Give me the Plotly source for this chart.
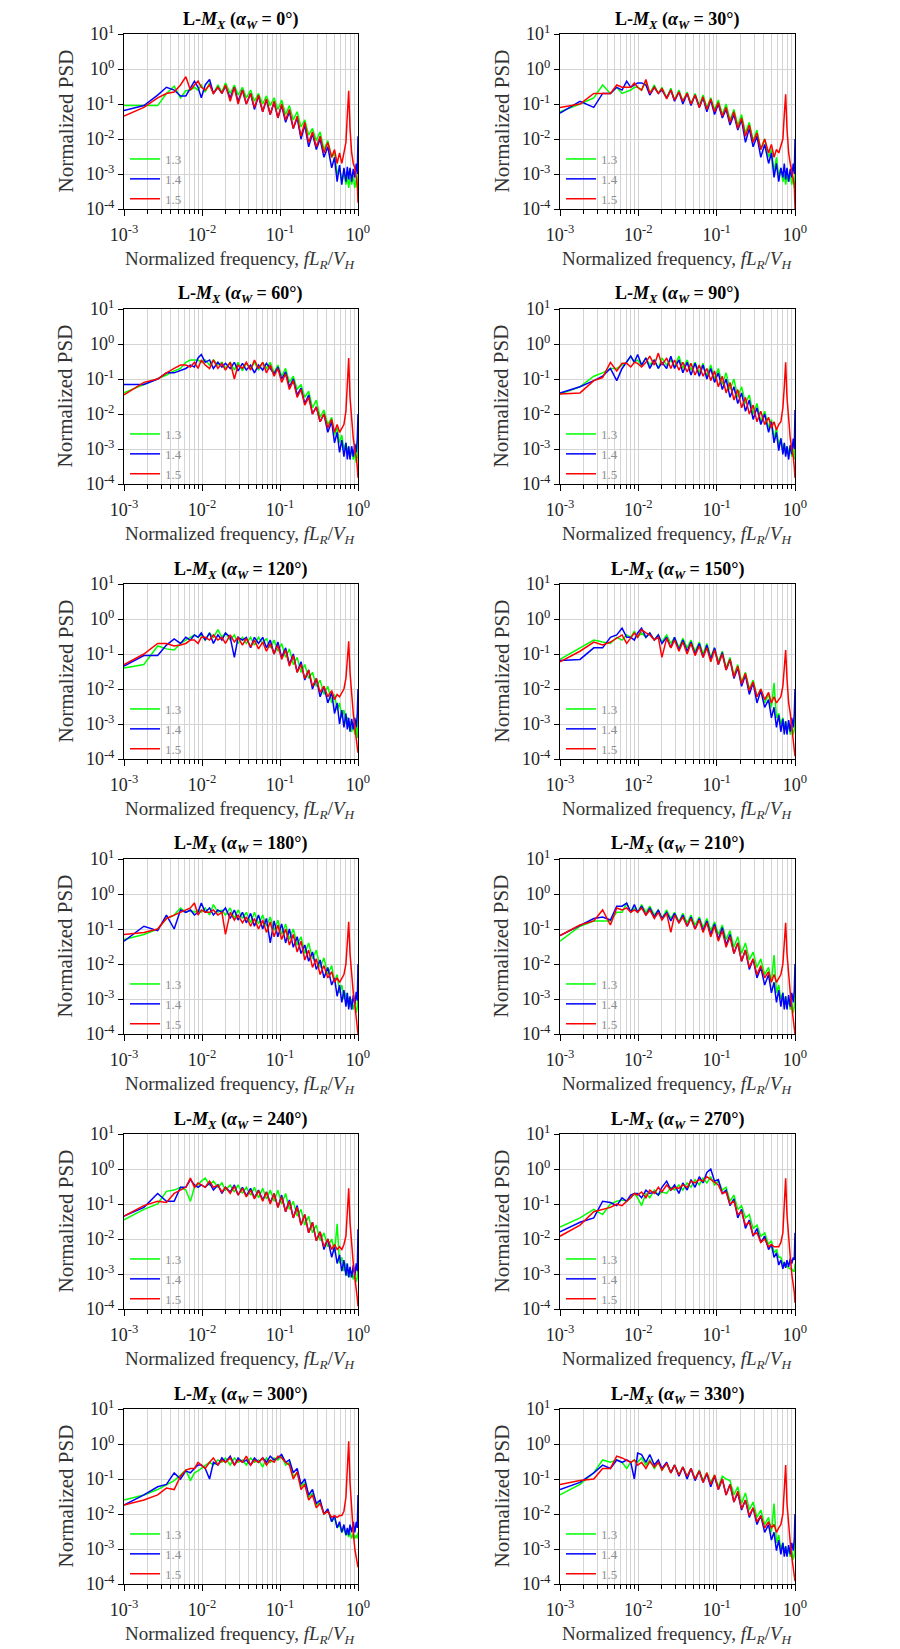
import plotly.graph_objects as go

# ---------------- data ----------------
FREQ = [0.001, 0.0018, 0.0027, 0.0035, 0.0044, 0.0053, 0.0062, 0.0071, 0.008, 0.0089,
        0.0098, 0.011, 0.0125, 0.014, 0.016, 0.018, 0.02, 0.023, 0.026, 0.029,
        0.033, 0.037, 0.042, 0.047, 0.053, 0.06, 0.067, 0.075, 0.084, 0.094,
        0.105, 0.118, 0.132, 0.148, 0.166, 0.186, 0.208, 0.233, 0.261, 0.292,
        0.327, 0.366, 0.41, 0.46, 0.5, 0.54, 0.58, 0.62, 0.66, 0.7,
        0.73, 0.76, 0.79, 0.83, 0.87, 0.91, 0.95, 0.98, 1.0]

ANGLES = [0, 30, 60, 90, 120, 150, 180, 210, 240, 270, 300, 330]
SERIES_NAMES = ["1.3", "1.4", "1.5"]
SERIES_COLORS = ["#00ff00", "#0000ff", "#ff0000"]
X_TICKS = [1e-3, 1e-2, 1e-1, 1.0]
X_TICKTEXT = ["10<sup>-3</sup>", "10<sup>-2</sup>", "10<sup>-1</sup>", "10<sup>0</sup>"]
Y_TICKS = [1e-4, 1e-3, 1e-2, 1e-1, 1.0, 10.0]
Y_TICKTEXT = ["10<sup>-4</sup>", "10<sup>-3</sup>", "10<sup>-2</sup>", "10<sup>-1</sup>", "10<sup>0</sup>", "10<sup>1</sup>"]

A000_G = [0.09, 0.09, 0.09, 0.2, 0.32, 0.15, 0.24, 0.25, 0.3, 0.25,
          0.35, 0.22, 0.4, 0.2, 0.35, 0.22, 0.4, 0.2, 0.35, 0.18,
          0.3, 0.15, 0.25, 0.12, 0.2, 0.1, 0.17, 0.09, 0.15, 0.07,
          0.13, 0.05, 0.09, 0.035, 0.06, 0.022, 0.035, 0.013, 0.02, 0.009,
          0.016, 0.005, 0.009, 0.003, 0.004, 0.001, 0.0015, 0.0006, 0.0011, 0.0005,
          0.0009, 0.0004, 0.0008, 0.0005, 0.0009, 0.0004, 0.0007, 0.0004, 0.001]
A000_B = [0.065, 0.09, 0.18, 0.3, 0.25, 0.17, 0.17, 0.3, 0.45, 0.3,
          0.15, 0.35, 0.5, 0.2, 0.3, 0.2, 0.32, 0.15, 0.3, 0.12,
          0.25, 0.1, 0.2, 0.07, 0.17, 0.06, 0.13, 0.05, 0.11, 0.04,
          0.09, 0.03, 0.06, 0.02, 0.04, 0.01, 0.025, 0.006, 0.014, 0.005,
          0.01, 0.003, 0.006, 0.0015, 0.003, 0.0006, 0.0018, 0.0005, 0.0015, 0.0006,
          0.0016, 0.0007, 0.0015, 0.0006, 0.0014, 0.0008, 0.002, 0.001, 0.012]
A000_R = [0.045, 0.08, 0.15, 0.2, 0.22, 0.35, 0.6, 0.25, 0.35, 0.45,
          0.3, 0.25, 0.35, 0.2, 0.3, 0.2, 0.35, 0.12, 0.3, 0.1,
          0.25, 0.1, 0.2, 0.08, 0.18, 0.06, 0.14, 0.05, 0.12, 0.04,
          0.1, 0.035, 0.07, 0.02, 0.045, 0.012, 0.03, 0.008, 0.016, 0.006,
          0.012, 0.004, 0.008, 0.003, 0.005, 0.002, 0.004, 0.002, 0.004, 0.008,
          0.05, 0.24, 0.02, 0.004, 0.002, 0.0015, 0.0008, 0.0005, 0.00015]

A030_G = [0.06, 0.1, 0.15, 0.35, 0.2, 0.3, 0.2, 0.22, 0.25, 0.3,
          0.3, 0.25, 0.45, 0.2, 0.35, 0.2, 0.3, 0.15, 0.28, 0.13,
          0.25, 0.12, 0.22, 0.1, 0.2, 0.09, 0.18, 0.08, 0.15, 0.07,
          0.13, 0.05, 0.1, 0.035, 0.07, 0.025, 0.05, 0.015, 0.03, 0.009,
          0.018, 0.005, 0.01, 0.003, 0.005, 0.0012, 0.003, 0.0008, 0.0015, 0.0006,
          0.001, 0.0005, 0.0009, 0.0006, 0.001, 0.0005, 0.0008, 0.0004, 0.001]
A030_B = [0.055, 0.12, 0.08, 0.2, 0.2, 0.3, 0.25, 0.45, 0.3, 0.35,
          0.4, 0.4, 0.35, 0.18, 0.3, 0.2, 0.25, 0.15, 0.25, 0.12,
          0.22, 0.1, 0.2, 0.09, 0.18, 0.08, 0.15, 0.06, 0.13, 0.05,
          0.1, 0.04, 0.07, 0.025, 0.05, 0.018, 0.035, 0.008, 0.02, 0.006,
          0.012, 0.003, 0.007, 0.002, 0.004, 0.0008, 0.002, 0.0006, 0.0015, 0.0008,
          0.002, 0.0007, 0.0015, 0.0006, 0.0014, 0.0008, 0.002, 0.001, 0.01]
A030_R = [0.08, 0.1, 0.2, 0.2, 0.2, 0.35, 0.3, 0.3, 0.3, 0.4,
          0.3, 0.25, 0.5, 0.2, 0.3, 0.2, 0.28, 0.14, 0.25, 0.13,
          0.22, 0.12, 0.2, 0.1, 0.18, 0.08, 0.16, 0.07, 0.14, 0.06,
          0.11, 0.045, 0.08, 0.03, 0.06, 0.02, 0.04, 0.012, 0.025, 0.008,
          0.015, 0.005, 0.01, 0.004, 0.007, 0.003, 0.005, 0.004, 0.006, 0.01,
          0.05, 0.19, 0.02, 0.004, 0.002, 0.0012, 0.0008, 0.0005, 0.0001]

A060_G = [0.04, 0.07, 0.1, 0.13, 0.17, 0.2, 0.3, 0.35, 0.35, 0.35,
          0.3, 0.35, 0.25, 0.35, 0.25, 0.3, 0.2, 0.3, 0.18, 0.3,
          0.17, 0.28, 0.2, 0.3, 0.18, 0.3, 0.2, 0.3, 0.15, 0.25,
          0.12, 0.2, 0.08, 0.12, 0.05, 0.07, 0.03, 0.045, 0.015, 0.025,
          0.008, 0.013, 0.005, 0.008, 0.0025, 0.004, 0.0015, 0.0025, 0.001, 0.0015,
          0.0008, 0.0012, 0.0006, 0.001, 0.0005, 0.0008, 0.0004, 0.0006, 0.003]
A060_B = [0.07, 0.07, 0.1, 0.15, 0.15, 0.18, 0.2, 0.25, 0.22, 0.4,
          0.5, 0.3, 0.35, 0.2, 0.3, 0.22, 0.28, 0.2, 0.3, 0.17,
          0.28, 0.18, 0.25, 0.15, 0.25, 0.18, 0.28, 0.2, 0.14, 0.22,
          0.1, 0.16, 0.06, 0.1, 0.035, 0.055, 0.02, 0.035, 0.01, 0.016,
          0.006, 0.01, 0.003, 0.006, 0.0015, 0.003, 0.0008, 0.0018, 0.0006, 0.0015,
          0.0005, 0.0012, 0.0005, 0.0012, 0.0006, 0.0014, 0.0008, 0.002, 0.01]
A060_R = [0.035, 0.08, 0.1, 0.15, 0.2, 0.25, 0.25, 0.22, 0.3, 0.2,
          0.35, 0.25, 0.2, 0.35, 0.2, 0.28, 0.18, 0.3, 0.1, 0.25,
          0.2, 0.3, 0.18, 0.35, 0.2, 0.3, 0.15, 0.25, 0.12, 0.2,
          0.08, 0.14, 0.05, 0.09, 0.03, 0.05, 0.018, 0.03, 0.01, 0.016,
          0.006, 0.01, 0.004, 0.007, 0.003, 0.005, 0.003, 0.004, 0.005, 0.012,
          0.08, 0.4, 0.03, 0.005, 0.002, 0.001, 0.0006, 0.0003, 0.00015]

A090_G = [0.037, 0.06, 0.12, 0.15, 0.2, 0.2, 0.25, 0.3, 0.45, 0.3,
          0.35, 0.25, 0.4, 0.25, 0.35, 0.2, 0.4, 0.25, 0.35, 0.22,
          0.45, 0.2, 0.35, 0.18, 0.3, 0.15, 0.28, 0.12, 0.25, 0.1,
          0.2, 0.07, 0.15, 0.05, 0.1, 0.03, 0.06, 0.02, 0.035, 0.01,
          0.02, 0.006, 0.012, 0.004, 0.007, 0.002, 0.004, 0.0012, 0.002, 0.0009,
          0.0014, 0.0007, 0.0012, 0.0008, 0.0012, 0.0006, 0.001, 0.0005, 0.0015]
A090_B = [0.04, 0.06, 0.09, 0.12, 0.2, 0.09, 0.2, 0.3, 0.45, 0.3,
          0.5, 0.25, 0.4, 0.2, 0.35, 0.2, 0.3, 0.2, 0.45, 0.2,
          0.35, 0.15, 0.3, 0.13, 0.28, 0.12, 0.25, 0.1, 0.2, 0.08,
          0.15, 0.05, 0.1, 0.03, 0.06, 0.02, 0.04, 0.012, 0.025, 0.007,
          0.015, 0.005, 0.01, 0.003, 0.006, 0.0015, 0.003, 0.0009, 0.002, 0.0007,
          0.0015, 0.0006, 0.0012, 0.0005, 0.0013, 0.0007, 0.002, 0.001, 0.013]
A090_R = [0.037, 0.04, 0.09, 0.11, 0.3, 0.17, 0.28, 0.28, 0.22, 0.3,
          0.28, 0.22, 0.3, 0.45, 0.25, 0.55, 0.25, 0.4, 0.2, 0.35,
          0.18, 0.3, 0.16, 0.28, 0.13, 0.25, 0.12, 0.2, 0.09, 0.17,
          0.06, 0.12, 0.04, 0.08, 0.025, 0.05, 0.015, 0.03, 0.01, 0.018,
          0.006, 0.012, 0.005, 0.008, 0.004, 0.006, 0.0035, 0.005, 0.006, 0.015,
          0.06, 0.3, 0.03, 0.005, 0.002, 0.001, 0.0006, 0.0003, 0.00015]

A120_G = [0.04, 0.05, 0.17, 0.14, 0.13, 0.2, 0.25, 0.3, 0.35, 0.3,
          0.35, 0.25, 0.4, 0.3, 0.5, 0.3, 0.4, 0.25, 0.35, 0.2,
          0.3, 0.2, 0.3, 0.18, 0.3, 0.2, 0.28, 0.15, 0.25, 0.12,
          0.2, 0.08, 0.14, 0.05, 0.08, 0.03, 0.05, 0.02, 0.03, 0.012,
          0.018, 0.007, 0.012, 0.004, 0.007, 0.0025, 0.004, 0.0015, 0.0025, 0.001,
          0.0016, 0.0008, 0.0012, 0.0006, 0.001, 0.0005, 0.0008, 0.0004, 0.002]
A120_B = [0.045, 0.09, 0.09, 0.18, 0.27, 0.2, 0.3, 0.25, 0.35, 0.3,
          0.4, 0.25, 0.4, 0.2, 0.35, 0.25, 0.4, 0.3, 0.08, 0.3,
          0.25, 0.3, 0.15, 0.3, 0.2, 0.3, 0.15, 0.25, 0.1, 0.22,
          0.08, 0.15, 0.05, 0.1, 0.03, 0.06, 0.018, 0.035, 0.01, 0.02,
          0.006, 0.012, 0.004, 0.008, 0.002, 0.004, 0.001, 0.0025, 0.0008, 0.002,
          0.0007, 0.0015, 0.0006, 0.0014, 0.0007, 0.0015, 0.0008, 0.002, 0.01]
A120_R = [0.05, 0.1, 0.2, 0.2, 0.17, 0.18, 0.2, 0.25, 0.25, 0.2,
          0.3, 0.3, 0.25, 0.35, 0.25, 0.3, 0.2, 0.35, 0.22, 0.3,
          0.18, 0.28, 0.16, 0.25, 0.14, 0.22, 0.12, 0.2, 0.1, 0.18,
          0.07, 0.13, 0.045, 0.09, 0.03, 0.05, 0.02, 0.035, 0.012, 0.02,
          0.008, 0.012, 0.006, 0.009, 0.005, 0.007, 0.006, 0.008, 0.01, 0.02,
          0.08, 0.23, 0.03, 0.006, 0.002, 0.0008, 0.0004, 0.0002, 0.00015]

A150_G = [0.07, 0.15, 0.25, 0.22, 0.2, 0.3, 0.25, 0.35, 0.3, 0.45,
          0.3, 0.4, 0.3, 0.4, 0.25, 0.35, 0.22, 0.35, 0.2, 0.3,
          0.15, 0.28, 0.15, 0.25, 0.12, 0.22, 0.1, 0.2, 0.08, 0.15,
          0.06, 0.12, 0.04, 0.08, 0.025, 0.05, 0.016, 0.03, 0.01, 0.018,
          0.006, 0.01, 0.004, 0.007, 0.003, 0.015, 0.0015, 0.002, 0.001, 0.0015,
          0.0007, 0.0012, 0.0006, 0.001, 0.0005, 0.0009, 0.0005, 0.0007, 0.002]
A150_B = [0.065, 0.07, 0.15, 0.15, 0.3, 0.35, 0.55, 0.3, 0.3, 0.25,
          0.4, 0.55, 0.3, 0.4, 0.25, 0.35, 0.2, 0.3, 0.15, 0.3,
          0.13, 0.25, 0.12, 0.22, 0.1, 0.2, 0.08, 0.18, 0.07, 0.15,
          0.05, 0.11, 0.035, 0.07, 0.02, 0.04, 0.012, 0.025, 0.007, 0.015,
          0.004, 0.009, 0.003, 0.005, 0.0015, 0.003, 0.0008, 0.0018, 0.0006, 0.0014,
          0.0005, 0.0012, 0.0005, 0.0013, 0.0006, 0.0015, 0.0008, 0.002, 0.01]
A150_R = [0.06, 0.12, 0.22, 0.18, 0.22, 0.28, 0.35, 0.2, 0.3, 0.4,
          0.3, 0.5, 0.4, 0.35, 0.25, 0.3, 0.08, 0.28, 0.15, 0.25,
          0.12, 0.22, 0.1, 0.2, 0.09, 0.17, 0.08, 0.15, 0.06, 0.13,
          0.05, 0.1, 0.035, 0.07, 0.022, 0.045, 0.014, 0.028, 0.009, 0.016,
          0.006, 0.01, 0.005, 0.008, 0.004, 0.006, 0.004, 0.005, 0.006, 0.012,
          0.05, 0.13, 0.02, 0.004, 0.002, 0.0008, 0.0004, 0.0002, 0.00012]

A180_G = [0.05, 0.07, 0.1, 0.2, 0.25, 0.4, 0.3, 0.35, 0.3, 0.35,
          0.3, 0.4, 0.25, 0.5, 0.3, 0.35, 0.25, 0.4, 0.2, 0.35,
          0.2, 0.3, 0.15, 0.3, 0.14, 0.25, 0.12, 0.22, 0.09, 0.18,
          0.07, 0.14, 0.05, 0.1, 0.035, 0.06, 0.02, 0.04, 0.014, 0.025,
          0.008, 0.015, 0.005, 0.009, 0.003, 0.005, 0.0015, 0.0025, 0.001, 0.0015,
          0.0007, 0.0011, 0.0006, 0.001, 0.0005, 0.0008, 0.0004, 0.0006, 0.002]
A180_B = [0.045, 0.12, 0.09, 0.25, 0.1, 0.35, 0.3, 0.35, 0.25, 0.3,
          0.55, 0.3, 0.4, 0.25, 0.35, 0.3, 0.4, 0.2, 0.35, 0.18,
          0.3, 0.15, 0.28, 0.12, 0.25, 0.1, 0.2, 0.04, 0.17, 0.06,
          0.14, 0.04, 0.1, 0.03, 0.06, 0.02, 0.035, 0.012, 0.022, 0.007,
          0.013, 0.004, 0.008, 0.0025, 0.004, 0.0012, 0.0025, 0.0008, 0.0018, 0.0006,
          0.0015, 0.0005, 0.0012, 0.0005, 0.0013, 0.0007, 0.0016, 0.0009, 0.01]
A180_R = [0.07, 0.08, 0.1, 0.2, 0.25, 0.3, 0.35, 0.4, 0.55, 0.25,
          0.35, 0.3, 0.3, 0.35, 0.25, 0.3, 0.07, 0.3, 0.18, 0.25,
          0.15, 0.22, 0.12, 0.2, 0.1, 0.18, 0.08, 0.16, 0.06, 0.13,
          0.05, 0.1, 0.035, 0.07, 0.022, 0.045, 0.013, 0.025, 0.008, 0.014,
          0.005, 0.009, 0.004, 0.006, 0.003, 0.004, 0.003, 0.004, 0.005, 0.01,
          0.04, 0.16, 0.02, 0.004, 0.0015, 0.0007, 0.0003, 0.00015, 0.0001]

A210_G = [0.045, 0.12, 0.17, 0.17, 0.17, 0.3, 0.3, 0.55, 0.3, 0.4,
          0.3, 0.5, 0.3, 0.45, 0.25, 0.35, 0.2, 0.35, 0.2, 0.3,
          0.16, 0.28, 0.15, 0.25, 0.13, 0.22, 0.11, 0.2, 0.09, 0.16,
          0.07, 0.13, 0.05, 0.09, 0.03, 0.06, 0.02, 0.04, 0.013, 0.022,
          0.008, 0.014, 0.005, 0.008, 0.003, 0.018, 0.0015, 0.0025, 0.001, 0.0015,
          0.0007, 0.0012, 0.0006, 0.001, 0.0005, 0.0008, 0.0004, 0.0006, 0.002]
A210_B = [0.065, 0.13, 0.2, 0.22, 0.18, 0.45, 0.45, 0.55, 0.3, 0.5,
          0.3, 0.45, 0.25, 0.4, 0.22, 0.35, 0.2, 0.3, 0.17, 0.28,
          0.15, 0.25, 0.12, 0.22, 0.1, 0.2, 0.09, 0.17, 0.07, 0.14,
          0.05, 0.11, 0.035, 0.07, 0.02, 0.04, 0.012, 0.025, 0.007, 0.014,
          0.004, 0.008, 0.0025, 0.005, 0.0015, 0.003, 0.0008, 0.0018, 0.0006, 0.0015,
          0.0005, 0.0012, 0.0005, 0.0013, 0.0006, 0.0015, 0.0008, 0.0018, 0.01]
A210_R = [0.065, 0.13, 0.17, 0.35, 0.13, 0.4, 0.35, 0.4, 0.3, 0.35,
          0.3, 0.4, 0.25, 0.35, 0.2, 0.3, 0.18, 0.28, 0.08, 0.25,
          0.15, 0.22, 0.12, 0.2, 0.1, 0.18, 0.08, 0.15, 0.06, 0.12,
          0.045, 0.09, 0.03, 0.06, 0.02, 0.04, 0.012, 0.025, 0.008, 0.014,
          0.005, 0.009, 0.004, 0.006, 0.003, 0.005, 0.003, 0.004, 0.005, 0.01,
          0.04, 0.15, 0.02, 0.004, 0.0015, 0.0006, 0.0003, 0.00015, 0.0001]

A240_G = [0.035, 0.07, 0.1, 0.23, 0.25, 0.3, 0.25, 0.12, 0.3, 0.35,
          0.45, 0.55, 0.35, 0.45, 0.3, 0.4, 0.25, 0.35, 0.22, 0.35,
          0.2, 0.3, 0.18, 0.3, 0.15, 0.28, 0.14, 0.25, 0.12, 0.25,
          0.1, 0.2, 0.07, 0.12, 0.045, 0.07, 0.025, 0.045, 0.015, 0.025,
          0.009, 0.015, 0.006, 0.01, 0.004, 0.027, 0.002, 0.003, 0.0012, 0.002,
          0.0009, 0.0014, 0.0008, 0.0012, 0.0007, 0.001, 0.0006, 0.0008, 0.002]
A240_B = [0.045, 0.08, 0.2, 0.12, 0.12, 0.3, 0.3, 0.5, 0.35, 0.3,
          0.35, 0.3, 0.4, 0.25, 0.35, 0.2, 0.3, 0.22, 0.35, 0.18,
          0.3, 0.17, 0.28, 0.15, 0.25, 0.13, 0.22, 0.11, 0.2, 0.08,
          0.18, 0.06, 0.13, 0.04, 0.09, 0.025, 0.05, 0.015, 0.03, 0.009,
          0.016, 0.005, 0.01, 0.003, 0.006, 0.002, 0.0035, 0.0012, 0.0025, 0.0009,
          0.002, 0.0008, 0.0016, 0.0008, 0.0018, 0.0009, 0.002, 0.0012, 0.019]
A240_R = [0.045, 0.09, 0.12, 0.11, 0.2, 0.25, 0.3, 0.55, 0.3, 0.4,
          0.35, 0.3, 0.45, 0.3, 0.35, 0.22, 0.3, 0.2, 0.32, 0.18,
          0.28, 0.16, 0.25, 0.14, 0.24, 0.12, 0.22, 0.1, 0.2, 0.08,
          0.16, 0.06, 0.12, 0.04, 0.08, 0.025, 0.05, 0.015, 0.03, 0.009,
          0.016, 0.006, 0.01, 0.005, 0.007, 0.005, 0.006, 0.005, 0.007, 0.012,
          0.06, 0.28, 0.03, 0.005, 0.002, 0.0008, 0.0004, 0.0002, 0.00012]

A270_G = [0.022, 0.04, 0.07, 0.05, 0.1, 0.12, 0.13, 0.12, 0.15, 0.2,
          0.15, 0.09, 0.2, 0.15, 0.25, 0.18, 0.22, 0.2, 0.3, 0.25,
          0.35, 0.25, 0.4, 0.3, 0.5, 0.35, 0.55, 0.4, 0.6, 0.35,
          0.45, 0.25, 0.3, 0.12, 0.18, 0.07, 0.09, 0.04, 0.05, 0.02,
          0.025, 0.012, 0.015, 0.007, 0.009, 0.004, 0.005, 0.003, 0.003, 0.002,
          0.002, 0.0018, 0.0016, 0.0015, 0.0014, 0.0014, 0.0012, 0.0012, 0.002]
A270_B = [0.016, 0.03, 0.04, 0.12, 0.11, 0.09, 0.15, 0.12, 0.18, 0.2,
          0.2, 0.15, 0.25, 0.2, 0.22, 0.18, 0.3, 0.45, 0.25, 0.35,
          0.2, 0.4, 0.25, 0.5, 0.3, 0.6, 0.4, 0.8, 1.0, 0.45,
          0.5, 0.2, 0.25, 0.09, 0.14, 0.04, 0.07, 0.02, 0.035, 0.012,
          0.02, 0.008, 0.012, 0.005, 0.007, 0.003, 0.004, 0.0018, 0.0025, 0.0014,
          0.0022, 0.0015, 0.0025, 0.0016, 0.0028, 0.002, 0.003, 0.0025, 0.015]
A270_R = [0.012, 0.025, 0.06, 0.07, 0.08, 0.1, 0.09, 0.12, 0.15, 0.2,
          0.18, 0.22, 0.15, 0.25, 0.2, 0.3, 0.22, 0.35, 0.25, 0.3,
          0.28, 0.35, 0.3, 0.45, 0.4, 0.5, 0.45, 0.6, 0.5, 0.4,
          0.35, 0.2, 0.22, 0.1, 0.12, 0.05, 0.06, 0.025, 0.03, 0.013,
          0.015, 0.008, 0.01, 0.006, 0.007, 0.006, 0.006, 0.006, 0.008, 0.015,
          0.1, 0.54, 0.05, 0.008, 0.003, 0.001, 0.0005, 0.0003, 0.00015]

A300_G = [0.025, 0.035, 0.05, 0.07, 0.09, 0.13, 0.18, 0.09, 0.15, 0.17,
          0.2, 0.25, 0.3, 0.25, 0.35, 0.3, 0.4, 0.25, 0.4, 0.3,
          0.35, 0.25, 0.4, 0.3, 0.35, 0.22, 0.4, 0.3, 0.4, 0.35,
          0.45, 0.25, 0.3, 0.12, 0.15, 0.06, 0.08, 0.03, 0.04, 0.018,
          0.022, 0.01, 0.013, 0.006, 0.008, 0.004, 0.005, 0.003, 0.004, 0.0025,
          0.003, 0.0022, 0.003, 0.002, 0.0028, 0.002, 0.0025, 0.002, 0.003]
A300_B = [0.018, 0.035, 0.06, 0.07, 0.15, 0.1, 0.17, 0.15, 0.2, 0.25,
          0.25, 0.2, 0.1, 0.3, 0.25, 0.4, 0.3, 0.45, 0.25, 0.4,
          0.3, 0.35, 0.25, 0.4, 0.3, 0.4, 0.3, 0.45, 0.35, 0.4,
          0.5, 0.3, 0.35, 0.15, 0.2, 0.07, 0.1, 0.035, 0.05, 0.02,
          0.025, 0.01, 0.014, 0.006, 0.009, 0.004, 0.006, 0.003, 0.005, 0.0025,
          0.004, 0.0025, 0.005, 0.003, 0.006, 0.003, 0.006, 0.004, 0.035]
A300_R = [0.018, 0.025, 0.035, 0.055, 0.05, 0.12, 0.18, 0.2, 0.2, 0.3,
          0.25, 0.2, 0.3, 0.4, 0.25, 0.35, 0.3, 0.4, 0.25, 0.35,
          0.3, 0.45, 0.25, 0.35, 0.3, 0.4, 0.25, 0.35, 0.3, 0.45,
          0.4, 0.3, 0.25, 0.1, 0.16, 0.05, 0.07, 0.025, 0.035, 0.015,
          0.02, 0.01, 0.012, 0.008, 0.009, 0.008, 0.009, 0.009, 0.012, 0.03,
          0.2, 1.2, 0.08, 0.01, 0.003, 0.001, 0.0005, 0.0004, 0.0003]

A330_G = [0.035, 0.07, 0.15, 0.35, 0.3, 0.35, 0.3, 0.2, 0.3, 0.35,
          0.3, 0.4, 0.25, 0.35, 0.2, 0.3, 0.18, 0.28, 0.15, 0.25,
          0.13, 0.22, 0.12, 0.2, 0.1, 0.18, 0.09, 0.15, 0.08, 0.13,
          0.06, 0.12, 0.1, 0.09, 0.035, 0.06, 0.02, 0.04, 0.013, 0.022,
          0.008, 0.013, 0.005, 0.008, 0.003, 0.02, 0.0015, 0.0025, 0.001, 0.0015,
          0.0008, 0.0012, 0.0007, 0.001, 0.0006, 0.0009, 0.0005, 0.0007, 0.002]
A330_B = [0.05, 0.08, 0.15, 0.25, 0.2, 0.35, 0.3, 0.35, 0.3, 0.1,
          0.55, 0.5, 0.3, 0.5, 0.25, 0.35, 0.2, 0.3, 0.15, 0.25,
          0.12, 0.22, 0.1, 0.2, 0.09, 0.17, 0.08, 0.14, 0.06, 0.12,
          0.05, 0.1, 0.035, 0.07, 0.022, 0.04, 0.013, 0.025, 0.008, 0.015,
          0.005, 0.009, 0.003, 0.005, 0.0018, 0.003, 0.0009, 0.0018, 0.0007, 0.0015,
          0.0006, 0.0012, 0.0006, 0.0013, 0.0007, 0.0015, 0.0009, 0.002, 0.01]
A330_R = [0.07, 0.09, 0.1, 0.2, 0.2, 0.45, 0.4, 0.35, 0.3, 0.35,
          0.25, 0.3, 0.2, 0.32, 0.22, 0.3, 0.18, 0.28, 0.15, 0.25,
          0.13, 0.22, 0.12, 0.2, 0.1, 0.17, 0.08, 0.15, 0.07, 0.13,
          0.05, 0.1, 0.035, 0.07, 0.022, 0.045, 0.014, 0.025, 0.009, 0.015,
          0.006, 0.009, 0.004, 0.006, 0.004, 0.005, 0.003, 0.004, 0.005, 0.01,
          0.05, 0.25, 0.02, 0.004, 0.0015, 0.0006, 0.0003, 0.00015, 0.00012]

PANEL_SERIES = {
    0: (A000_G, A000_B, A000_R), 30: (A030_G, A030_B, A030_R),
    60: (A060_G, A060_B, A060_R), 90: (A090_G, A090_B, A090_R),
    120: (A120_G, A120_B, A120_R), 150: (A150_G, A150_B, A150_R),
    180: (A180_G, A180_B, A180_R), 210: (A210_G, A210_B, A210_R),
    240: (A240_G, A240_B, A240_R), 270: (A270_G, A270_B, A270_R),
    300: (A300_G, A300_B, A300_R), 330: (A330_G, A330_B, A330_R),
}
for _a, _s in PANEL_SERIES.items():
    for _v in _s:
        assert len(_v) == len(FREQ), (_a, len(_v))

# ---------------- layout ----------------
PAGE_W, PAGE_H = 900, 1649
OFF = 8                      # default body margin of the html page
W, H = PAGE_W - OFF, PAGE_H - OFF
FONT = "Liberation Serif"
COL_X = [(124, 358), (560, 795)]          # page pixel coordinates
ROW_TOP0, ROW_STEP, PLOT_H = 34, 275, 175
GRID = "#d4d4d4"
MINOR_X = [m * 10.0 ** e for e in (-3, -2, -1) for m in range(2, 10)]


def px(x):
    return (x - OFF) / W


def py(y):
    return 1 - (y - OFF) / H


fig = go.Figure()
layout = dict(width=W, height=H,
              margin=dict(l=0, r=0, t=0, b=0, pad=0, autoexpand=False),
              paper_bgcolor="white", plot_bgcolor="white",
              font=dict(family=FONT, color="#222222"), showlegend=True)
annotations = []

for k, ang in enumerate(ANGLES, start=1):
    row, col = (k - 1) // 2, (k - 1) % 2
    x0, x1 = COL_X[col]
    top = ROW_TOP0 + ROW_STEP * row
    bot = top + PLOT_H
    xa = "xaxis" if k == 1 else f"xaxis{k}"
    ya = "yaxis" if k == 1 else f"yaxis{k}"
    xr = "x" if k == 1 else f"x{k}"
    yr = "y" if k == 1 else f"y{k}"
    lg = "legend" if k == 1 else f"legend{k}"

    layout[xa] = dict(type="log", range=[-3, 0], domain=[px(x0), px(x1)], anchor=yr,
                      tickmode="array", tickvals=X_TICKS, ticktext=X_TICKTEXT,
                      ticks="outside", ticklen=6, tickcolor="black", automargin=False,
                      ticklabelstandoff=3,
                      showgrid=True, gridcolor=GRID, gridwidth=1,
                      showline=True, linecolor="black", linewidth=1, mirror=True,
                      zeroline=False, tickfont=dict(family=FONT, size=18, color="#222222"),
                      minor=dict(tickmode="array", tickvals=MINOR_X, ticks="outside",
                                 ticklen=4, tickcolor="black", showgrid=True,
                                 gridcolor=GRID, gridwidth=1))
    layout[ya] = dict(type="log", range=[-4, 1], domain=[py(bot), py(top)], anchor=xr,
                      tickmode="array", tickvals=Y_TICKS, ticktext=Y_TICKTEXT,
                      ticks="outside", ticklen=5, tickcolor="black", automargin=False,
                      showgrid=True, gridcolor=GRID, gridwidth=1,
                      showline=True, linecolor="black", linewidth=1, mirror=True,
                      zeroline=False, tickfont=dict(family=FONT, size=18, color="#222222"))
    layout[lg] = dict(x=px(x0 + 1), y=py(top + 110), xanchor="left", yanchor="top",
                      bgcolor="rgba(0,0,0,0)", borderwidth=0, itemwidth=30,
                      font=dict(family=FONT, size=13, color="#8f8f8f"), tracegroupgap=0)

    for name, color, vals in zip(SERIES_NAMES, SERIES_COLORS, PANEL_SERIES[ang]):
        fig.add_trace(go.Scatter(x=FREQ, y=vals, mode="lines", name=name,
                                 line=dict(color=color, width=1.5),
                                 xaxis=xr, yaxis=yr, legend=lg))

    cx = (x0 + x1) / 2
    annotations.append(dict(
        text=f"<b>L-<i>M</i><sub><i>X</i></sub> (<i>α</i><sub><i>W</i></sub> = {ang}°)</b>",
        x=px(cx), y=py(top - 14), xref="paper", yref="paper",
        xanchor="center", yanchor="middle", showarrow=False,
        font=dict(family=FONT, size=18, color="black")))
    annotations.append(dict(
        text="Normalized frequency, <i>fL</i><sub><i>R</i></sub>/<i>V</i><sub><i>H</i></sub>",
        x=px(cx), y=py(bot + 51), xref="paper", yref="paper",
        xanchor="center", yanchor="middle", showarrow=False,
        font=dict(family=FONT, size=19, color="#333333")))
    annotations.append(dict(
        text="Normalized PSD", textangle=-90,
        x=px(x0 - 59), y=py(top + PLOT_H / 2), xref="paper", yref="paper",
        xanchor="center", yanchor="middle", showarrow=False,
        font=dict(family=FONT, size=21, color="#333333")))

layout["annotations"] = annotations
fig.update_layout(**layout)
fig.write_html("out.html")
